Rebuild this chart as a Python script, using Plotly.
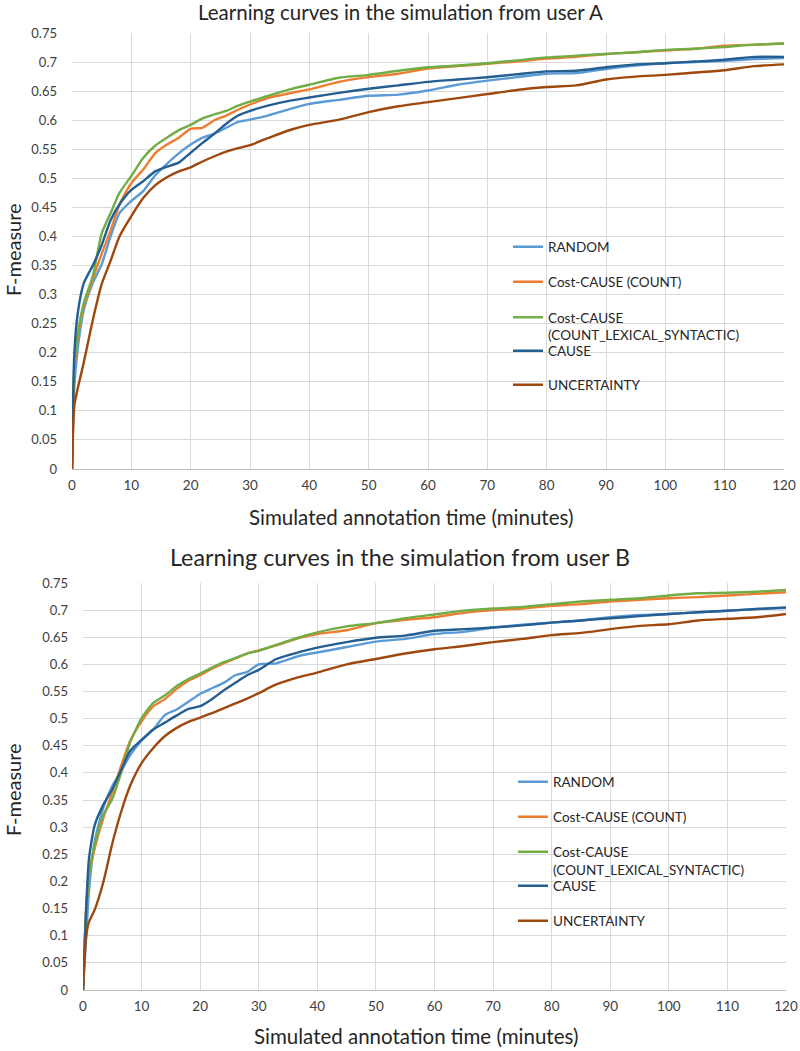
import plotly.graph_objects as go

# ---------------- data ----------------
minutes_a = [0, 0.4, 1, 2, 3.5, 5, 6.5, 8, 10, 12, 14, 16, 18, 20, 22, 24, 26, 28, 30,
             33, 37, 40, 45, 50, 55, 60, 65, 70, 75, 80, 85, 90, 95, 100, 105, 110, 115, 120]
random_a = [0, 0.143, 0.21, 0.274, 0.32, 0.352, 0.40, 0.44, 0.461, 0.478, 0.505, 0.525, 0.543,
            0.558, 0.570, 0.577, 0.587, 0.597, 0.601, 0.608, 0.620, 0.628, 0.635, 0.642, 0.644,
            0.651, 0.661, 0.668, 0.674, 0.680, 0.681, 0.688, 0.694, 0.698, 0.700, 0.702, 0.705, 0.707]
count_a = [0, 0.171, 0.229, 0.28, 0.326, 0.37, 0.41, 0.455, 0.492, 0.515, 0.543, 0.558, 0.570,
           0.585, 0.587, 0.600, 0.608, 0.618, 0.627, 0.638, 0.647, 0.653, 0.666, 0.674, 0.680,
           0.689, 0.693, 0.697, 0.701, 0.706, 0.709, 0.714, 0.717, 0.720, 0.723, 0.728, 0.730, 0.732]
lexsyn_a = [0, 0.177, 0.234, 0.286, 0.332, 0.405, 0.44, 0.475, 0.504, 0.535, 0.556, 0.570, 0.583,
            0.592, 0.603, 0.610, 0.616, 0.625, 0.632, 0.642, 0.654, 0.661, 0.673, 0.678, 0.685,
            0.691, 0.694, 0.698, 0.703, 0.708, 0.711, 0.714, 0.717, 0.721, 0.723, 0.726, 0.730, 0.732]
cause_a = [0, 0.2, 0.27, 0.32, 0.35, 0.385, 0.428, 0.455, 0.48, 0.495, 0.512, 0.52, 0.527,
           0.544, 0.561, 0.577, 0.594, 0.608, 0.616, 0.625, 0.634, 0.639, 0.647, 0.654, 0.660,
           0.666, 0.670, 0.674, 0.679, 0.684, 0.685, 0.691, 0.696, 0.698, 0.701, 0.704, 0.709, 0.709]
uncert_a = [0, 0.11, 0.14, 0.184, 0.256, 0.318, 0.358, 0.40, 0.435, 0.466, 0.488, 0.502, 0.512,
            0.519, 0.529, 0.538, 0.546, 0.552, 0.557, 0.569, 0.584, 0.592, 0.601, 0.614, 0.624,
            0.631, 0.638, 0.645, 0.652, 0.657, 0.660, 0.670, 0.675, 0.678, 0.682, 0.686, 0.693, 0.696]

minutes_b = [0, 0.5, 1, 2, 3.5, 5, 6.5, 8, 10, 12, 14, 16, 18, 20, 22, 24, 26, 28, 30,
             33, 37, 40, 45, 50, 55, 60, 65, 70, 75, 80, 85, 90, 95, 100, 105, 110, 115, 120]
random_b = [0, 0.09, 0.18, 0.274, 0.337, 0.376, 0.403, 0.432, 0.46, 0.48, 0.507, 0.517, 0.531,
            0.546, 0.556, 0.566, 0.580, 0.586, 0.60, 0.602, 0.616, 0.622, 0.632, 0.642, 0.647,
            0.656, 0.660, 0.668, 0.673, 0.677, 0.681, 0.687, 0.691, 0.693, 0.696, 0.699, 0.702, 0.704]
count_b = [0, 0.14, 0.21, 0.261, 0.318, 0.364, 0.413, 0.458, 0.495, 0.523, 0.536, 0.555, 0.570,
           0.580, 0.592, 0.602, 0.611, 0.620, 0.626, 0.635, 0.649, 0.656, 0.663, 0.676, 0.682,
           0.687, 0.695, 0.700, 0.703, 0.708, 0.711, 0.716, 0.719, 0.722, 0.724, 0.727, 0.730, 0.733]
lexsyn_b = [0, 0.14, 0.21, 0.268, 0.323, 0.352, 0.40, 0.455, 0.501, 0.529, 0.543, 0.56, 0.573,
            0.583, 0.594, 0.604, 0.612, 0.620, 0.625, 0.636, 0.650, 0.659, 0.670, 0.676, 0.685,
            0.692, 0.699, 0.703, 0.706, 0.711, 0.716, 0.719, 0.722, 0.727, 0.731, 0.732, 0.734, 0.737]
cause_b = [0, 0.14, 0.24, 0.304, 0.342, 0.37, 0.405, 0.44, 0.461, 0.48, 0.493, 0.506, 0.518,
           0.523, 0.536, 0.552, 0.566, 0.580, 0.59, 0.610, 0.623, 0.631, 0.641, 0.649, 0.653,
           0.662, 0.665, 0.668, 0.672, 0.677, 0.681, 0.685, 0.689, 0.693, 0.696, 0.699, 0.702, 0.705]
uncert_b = [0, 0.095, 0.125, 0.148, 0.2, 0.27, 0.328, 0.375, 0.418, 0.446, 0.468, 0.483, 0.494,
            0.502, 0.51, 0.519, 0.528, 0.537, 0.547, 0.563, 0.577, 0.585, 0.600, 0.610, 0.620,
            0.628, 0.634, 0.641, 0.647, 0.654, 0.658, 0.665, 0.671, 0.674, 0.681, 0.684, 0.687, 0.693]

series_names = ["RANDOM", "Cost-CAUSE (COUNT)", "Cost-CAUSE<br>(COUNT_LEXICAL_SYNTACTIC)",
                "CAUSE", "UNCERTAINTY"]
series_colors = ["#5B9BD5", "#ED7D31", "#70AD47", "#255E91", "#9E480E"]

y_tickvals = [0, 0.05, 0.1, 0.15, 0.2, 0.25, 0.3, 0.35, 0.4, 0.45, 0.5, 0.55, 0.6, 0.65, 0.7, 0.75]
y_ticktext = ["0", "0.05", "0.1", "0.15", "0.2", "0.25", "0.3", "0.35", "0.4", "0.45",
              "0.5", "0.55", "0.6", "0.65", "0.7", "0.75"]
x_tickvals = [0, 10, 20, 30, 40, 50, 60, 70, 80, 90, 100, 110, 120]

title_a = "Learning curves in the simulation from user A"
title_b = "Learning curves in the simulation from user B"
x_title = "Simulated annotation time (minutes)"
y_title = "F-measure"

# ---------------- figure ----------------
W, H = 800, 1051
FONT = "Lato, Open Sans, sans-serif"
TXT = "#404040"

def px_x(x):
    return x / W

def px_y(y):
    return 1 - y / H

fig = go.Figure()

charts = [
    (minutes_a, [random_a, count_a, lexsyn_a, cause_a, uncert_a], "x", "y", 0),
    (minutes_b, [random_b, count_b, lexsyn_b, cause_b, uncert_b], "x2", "y2", 5),
]
for t, vals, xa, ya, off in charts:
    for i, (name, color, v) in enumerate(zip(series_names, series_colors, vals)):
        lg = "legend" if off + i == 0 else f"legend{off + i + 1}"
        fig.add_trace(go.Scatter(
            x=t, y=v, mode="lines", name=name, xaxis=xa, yaxis=ya, legend=lg,
            showlegend=True,
            line=dict(color=color, width=2.4, shape="spline", smoothing=0.6),
        ))

# legend positions (left px, center px)
legend_pos = [
    (508, 247), (508, 282), (508, 326.5), (508, 351), (508, 385),
    (513, 782), (513, 817), (513, 861), (513, 886), (513, 921),
]
legend_layout = {}
for k, (lx, ly) in enumerate(legend_pos):
    key = "legend" if k == 0 else f"legend{k + 1}"
    legend_layout[key] = dict(
        x=px_x(lx), y=px_y(ly), xanchor="left", yanchor="middle",
        bgcolor="rgba(0,0,0,0)", borderwidth=0, valign="top",
        font=dict(family=FONT, size=13.5, color="#262626"),
    )

grid = "#D9D9D9"
common_x = dict(range=[0, 120], tickvals=x_tickvals, showgrid=True, gridcolor=grid,
                gridwidth=1, zeroline=False, showline=False, ticks="", automargin=False,
                tickfont=dict(family=FONT, size=13.5, color=TXT), ticklabelstandoff=6)
common_y = dict(range=[0, 0.75], tickvals=y_tickvals, ticktext=y_ticktext, showgrid=True,
                gridcolor=grid, gridwidth=1, zeroline=True, zerolinecolor="#BFBFBF",
                zerolinewidth=1, showline=False, ticks="", automargin=False,
                tickfont=dict(family=FONT, size=13, color=TXT), ticklabelstandoff=14)

fig.update_layout(
    width=W, height=H, margin=dict(l=0, r=0, t=0, b=0, autoexpand=False),
    paper_bgcolor="white", plot_bgcolor="white", showlegend=True,
    xaxis=dict(domain=[px_x(72), px_x(784)], anchor="y", **common_x),
    yaxis=dict(domain=[px_y(469), px_y(33)], anchor="x", **common_y),
    xaxis2=dict(domain=[px_x(83), px_x(786)], anchor="y2", **common_x),
    yaxis2=dict(domain=[px_y(990), px_y(583)], anchor="x2", **common_y),
    **legend_layout,
)

annos = [
    dict(text=title_a, x=px_x(400), y=px_y(12), size=20.5),
    dict(text=title_b, x=px_x(400), y=px_y(557), size=23.3),
    dict(text=x_title, x=px_x(411), y=px_y(517), size=20.5),
    dict(text=x_title, x=px_x(416), y=px_y(1036), size=20.5),
]
for a in annos:
    fig.add_annotation(text=a["text"], x=a["x"], y=a["y"], xref="paper", yref="paper",
                       xanchor="center", yanchor="middle", showarrow=False,
                       font=dict(family=FONT, size=a["size"], color="#262626"))
for yc in (250, 790):
    fig.add_annotation(text=y_title, x=px_x(13), y=px_y(yc), xref="paper", yref="paper",
                       xanchor="center", yanchor="middle", showarrow=False, textangle=-90,
                       font=dict(family=FONT, size=20, color="#262626"))

fig.write_html("out.html", config={"displayModeBar": False},
               post_script="document.body.style.margin='0';document.body.style.padding='0';")
